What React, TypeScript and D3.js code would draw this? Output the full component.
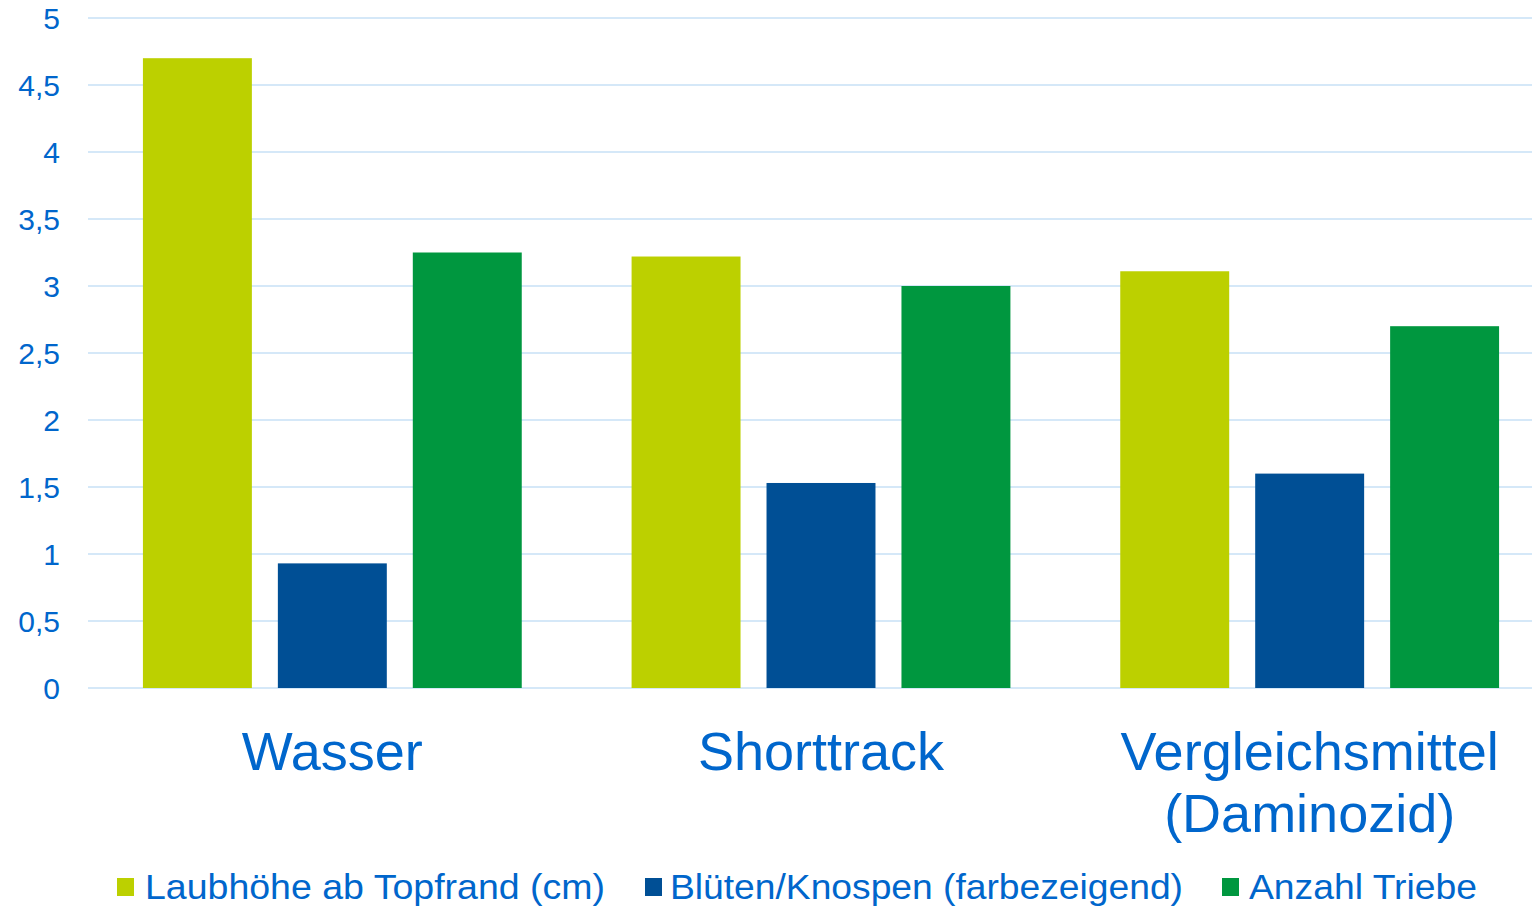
import * as d3 from "d3";

const categories = ["Wasser", "Shorttrack", "Vergleichsmittel\n(Daminozid)"];
const seriesNames = [
  "Laubhöhe ab Topfrand (cm)",
  "Blüten/Knospen (farbezeigend)",
  "Anzahl Triebe",
];
const seriesColors = ["#BCD000", "#004F95", "#00973F"];
const laubhoehe = [4.7, 3.22, 3.11];
const blueten = [0.93, 1.53, 1.6];
const triebe = [3.25, 3.0, 2.7];
const yTicks = [0, 0.5, 1, 1.5, 2, 2.5, 3, 3.5, 4, 4.5, 5];

const W = 1532;
const H = 907;
const textColor = "#0066CC";
const font = "'Liberation Sans', Arial, sans-serif";

export default function App() {
  const series = [laubhoehe, blueten, triebe];
  const x0 = d3.scaleBand().domain(categories).range([88, 1554]);
  const x1 = d3
    .scaleBand()
    .domain(seriesNames)
    .range([0, x0.bandwidth()])
    .paddingInner(0.1926)
    .paddingOuter(0.407);
  const y = d3.scaleLinear().domain([0, 5]).range([688, 18]);
  const fmt = (v: number) => String(v).replace(".", ",");

  const legendItems = [
    { sx: 117, tx: 145, w: 460 },
    { sx: 645, tx: 670, w: 513 },
    { sx: 1222, tx: 1249, w: 228 },
  ];

  return (
    <svg
      width={W}
      height={H}
      style={{ position: "fixed", left: 0, top: 0, background: "#fff" }}
      fontFamily={font}
    >
      <g>
        {yTicks.map((t) => (
          <g key={t}>
            <line x1={88} x2={W} y1={y(t)} y2={y(t)} stroke="#D5E8F8" strokeWidth={2} />
            <text x={60} y={y(t)} dy="0.36em" textAnchor="end" fontSize={30} fill={textColor}>
              {fmt(t)}
            </text>
          </g>
        ))}
      </g>
      <g>
        {categories.map((c, ci) => (
          <g key={c} transform={`translate(${x0(c)},0)`}>
            {seriesNames.map((s, si) => (
              <rect
                key={s}
                x={x1(s)}
                width={x1.bandwidth()}
                y={y(series[si][ci])}
                height={y(0) - y(series[si][ci])}
                fill={seriesColors[si]}
              />
            ))}
          </g>
        ))}
      </g>
      <g>
        {categories.map((c) => (
          <text
            key={c}
            x={(x0(c) as number) + x0.bandwidth() / 2}
            y={770}
            textAnchor="middle"
            fontSize={54}
            fill={textColor}
          >
            {c.split("\n").map((line, i) => (
              <tspan key={i} x={(x0(c) as number) + x0.bandwidth() / 2} dy={i === 0 ? 0 : 62}>
                {line}
              </tspan>
            ))}
          </text>
        ))}
      </g>
      <g>
        {seriesNames.map((s, i) => (
          <g key={s}>
            <rect x={legendItems[i].sx} y={878} width={17} height={18} fill={seriesColors[i]} />
            <text
              x={legendItems[i].tx}
              y={899}
              fontSize={35}
              fill={textColor}
              textLength={legendItems[i].w}
              lengthAdjust="spacingAndGlyphs"
            >
              {s}
            </text>
          </g>
        ))}
      </g>
    </svg>
  );
}
